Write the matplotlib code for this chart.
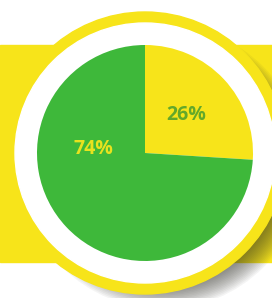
#%%
import matplotlib.pyplot as plt
import numpy as np
from matplotlib.patches import Circle, Rectangle

# 데이터
labels = ['26%', '74%']
values = [26, 74]

yellow = '#f7e41a'
green = '#3eb83a'

#%%
fig = plt.figure(figsize=(2.72, 2.98), dpi=100)
ax = fig.add_axes([0, 0, 1, 1])

cx, cy = 145, 145  # 원 중심 (아래에서 위로)
r_pie = 108

# 노란 띠
ax.add_patch(Rectangle((0, 36), 272, 217, color=yellow, zorder=1))

# 그림자 (오른쪽 아래로 번지게)
for i in range(16):
    ax.add_patch(Circle((cx + 18, cy - 14), 142 - i * 1.5, color='#3a3a30',
                        alpha=0.05, lw=0, zorder=2))

# 바깥 노란 링 + 흰 링
ax.add_patch(Circle((cx, cy), 141, color=yellow, zorder=3))
ax.add_patch(Circle((cx, cy), 130, color='white', zorder=4))

wedges, texts, autotexts = ax.pie(values, colors=[yellow, green],
                                  startangle=90, counterclock=False,
                                  center=(cx, cy), radius=r_pie, frame=True,
                                  autopct='%d%%', pctdistance=0.52,
                                  wedgeprops=dict(linewidth=0),
                                  textprops=dict(fontsize=14, weight='bold',
                                                 family='Open Sans'))
for w in wedges:
    w.set_zorder(5)

autotexts[0].set_color('#63a82a')
autotexts[1].set_color('#e8e21e')
autotexts[1].set_position((cx - 52, cy + 4))  # 74% 왼쪽에 표시
for t in autotexts:
    t.set_zorder(6)

ax.set_xlim(0, 272)
ax.set_ylim(0, 298)
ax.set_aspect('auto')
ax.axis('off')

plt.savefig('out.png', dpi=100)
